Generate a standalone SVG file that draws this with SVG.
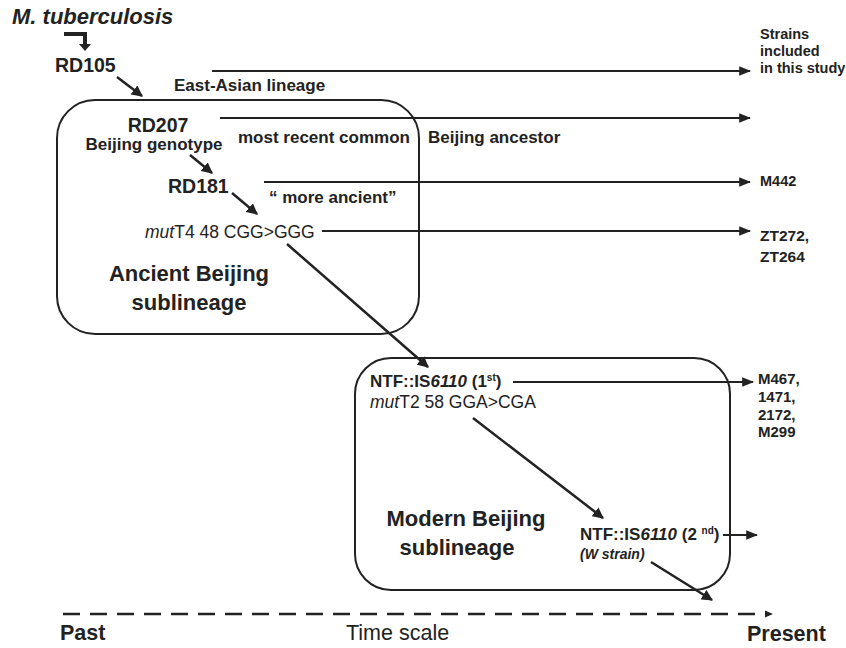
<svg xmlns="http://www.w3.org/2000/svg" width="846" height="648" viewBox="0 0 846 648">
<defs>
<marker id="ah" viewBox="0 0 10 10" refX="9" refY="5" markerWidth="4.5" markerHeight="4.5" orient="auto" markerUnits="strokeWidth">
<path d="M0,0 L10,5 L0,10 Z" fill="#222"/>
</marker>
<marker id="ahs" viewBox="0 0 10 10" refX="9" refY="5" markerWidth="6" markerHeight="6" orient="auto" markerUnits="strokeWidth">
<path d="M0,1 L10,5 L0,9 Z" fill="#222"/>
</marker>
</defs>
<style>
text{font-family:"Liberation Sans",Arial,sans-serif;fill:#222}
.b{font-weight:bold}
.bi{font-weight:bold;font-style:italic}
.i{font-style:italic}
.h{font-size:19.5px}
.m{font-size:17px}
.s{font-size:14.5px}
.big{font-size:22px}
.t{font-size:21.5px}
.box{fill:none;stroke:#222;stroke-width:2}
.ln{stroke:#222;stroke-width:2;fill:none;marker-end:url(#ahs)}
.da{stroke:#222;stroke-width:2.5;fill:none;marker-end:url(#ah)}
</style>
<rect width="846" height="648" fill="#fff"/>

<text id="title" x="12" y="24" class="bi" font-size="22">M. tuberculosis</text>

<g id="ancient-box">
<rect class="box" x="57" y="100" width="362" height="234" rx="38"/>
<text x="189" y="281" class="b big" text-anchor="middle">Ancient Beijing</text>
<text x="189" y="310" class="b big" text-anchor="middle">sublineage</text>
</g>

<g id="modern-box">
<rect class="box" x="355" y="358" width="375" height="232" rx="36"/>
<text x="466" y="526" class="b big" text-anchor="middle">Modern Beijing</text>
<text x="457" y="555" class="b big" text-anchor="middle">sublineage</text>
</g>

<g id="rd105"><text x="55" y="72" class="b h">RD105</text></g>
<g id="east-asian"><text x="174" y="91" class="b m">East-Asian lineage</text></g>
<g id="rd207">
<text x="158" y="132" class="b h" text-anchor="middle">RD207</text>
<text x="154" y="150" class="b m" text-anchor="middle">Beijing genotype</text>
</g>
<g id="mrca">
<text x="238" y="143" class="b m">most recent common</text>
<text x="428" y="143" class="b m">Beijing ancestor</text>
</g>
<g id="rd181"><text x="168" y="193" class="b h">RD181</text></g>
<g id="more-ancient"><text x="269" y="203" class="b m">“ more ancient”</text></g>
<g id="mutT4"><text x="145" y="238" font-size="17.5"><tspan class="i">mut</tspan>T4 48 CGG&gt;GGG</text></g>
<g id="ntf1">
<text x="370" y="387" class="b m">NTF::IS<tspan class="i">6110</tspan> (1<tspan font-size="10" dy="-6">st</tspan><tspan dy="6">)</tspan></text>
<text x="370" y="408" font-size="17.5"><tspan class="i">mut</tspan>T2 58 GGA&gt;CGA</text>
</g>
<g id="ntf2">
<text x="580" y="540" class="b m">NTF::IS<tspan class="i">6110</tspan> (2 <tspan font-size="10" dy="-6">nd</tspan><tspan dy="6">)</tspan></text>
<text x="580" y="559" class="bi" font-size="14">(W strain)</text>
</g>

<g id="strains-header">
<text x="760" y="39" class="b s">Strains</text>
<text x="760" y="56" class="b s">included</text>
<text x="760" y="73" class="b s">in this study</text>
</g>
<g id="m442"><text x="760" y="186" class="b s">M442</text></g>
<g id="zt"><text x="760" y="241" class="b" font-size="15.5">ZT272,</text><text x="760" y="262" class="b" font-size="15.5">ZT264</text></g>
<g id="m467"><text x="758" y="384" class="b" font-size="15">M467,</text><text x="758" y="402" class="b" font-size="15">1471,</text><text x="758" y="420" class="b" font-size="15">2172,</text><text x="758" y="437" class="b" font-size="15">M299</text></g>

<g id="timescale">
<text x="60" y="640" class="b t">Past</text>
<text x="346" y="640" class="t">Time scale</text>
<text x="747" y="641" class="b t">Present</text>
</g>

<g id="connectors">
<path d="M64,34 H85 V45" stroke="#222" stroke-width="4" fill="none"/>
<path d="M79,44 L91,44 L85,51 Z" fill="#222"/>
<line class="da" x1="117" y1="77" x2="142" y2="96"/>
<line class="ln" x1="212" y1="71" x2="750" y2="71"/>
<line class="ln" x1="220" y1="118" x2="750" y2="118"/>
<line class="da" x1="190" y1="155" x2="212" y2="173"/>
<line class="ln" x1="264" y1="182" x2="750" y2="182"/>
<line class="da" x1="232" y1="193" x2="257" y2="214"/>
<line class="ln" x1="322" y1="231" x2="750" y2="231"/>
<line class="da" x1="287" y1="244" x2="428" y2="367"/>
<line class="ln" x1="513" y1="382" x2="753" y2="382"/>
<line class="da" x1="473" y1="418" x2="603" y2="518"/>
<line class="ln" x1="723" y1="535" x2="757" y2="535"/>
<line class="da" x1="651" y1="562" x2="712" y2="600"/>
<line x1="63" y1="614" x2="766" y2="614" stroke="#222" stroke-width="2.5" stroke-dasharray="17,10"/>
<path d="M765,610.5 L773,614 L765,617.5 Z" fill="#222"/>
</g>
</svg>
